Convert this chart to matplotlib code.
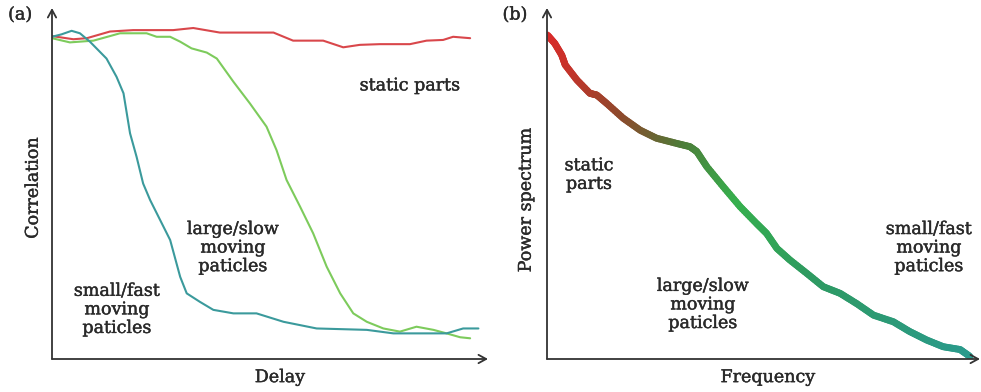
import numpy as np
import matplotlib
matplotlib.use("Agg")
import matplotlib.pyplot as plt
import matplotlib.patheffects as pe
from matplotlib.collections import LineCollection
from matplotlib.colors import LinearSegmentedColormap

# ---- panel (a): correlation vs delay -------------------------------------
static_delay = [0.00, 0.049, 0.080, 0.133, 0.186, 0.278, 0.324, 0.385, 0.508, 0.553,
                0.622, 0.668, 0.706, 0.752, 0.821, 0.859, 0.897, 0.920, 0.959]
static_corr = [0.920, 0.911, 0.914, 0.933, 0.937, 0.937, 0.943, 0.930, 0.930, 0.907,
               0.907, 0.888, 0.895, 0.897, 0.897, 0.907, 0.909, 0.918, 0.914]

slow_delay = [0.00, 0.041, 0.095, 0.133, 0.156, 0.217, 0.240, 0.271, 0.294, 0.320,
              0.355, 0.378, 0.416, 0.454, 0.492, 0.515, 0.538, 0.569, 0.599, 0.630,
              0.661, 0.691, 0.722, 0.760, 0.798, 0.836, 0.875, 0.905, 0.936, 0.959]
slow_corr = [0.914, 0.902, 0.907, 0.920, 0.928, 0.928, 0.918, 0.918, 0.904, 0.885,
             0.873, 0.856, 0.790, 0.728, 0.662, 0.595, 0.510, 0.434, 0.358, 0.263,
             0.187, 0.130, 0.106, 0.087, 0.078, 0.092, 0.083, 0.073, 0.062, 0.059]

fast_delay = [0.00, 0.022, 0.045, 0.064, 0.087, 0.125, 0.148, 0.164, 0.179, 0.194,
              0.209, 0.225, 0.248, 0.271, 0.294, 0.309, 0.339, 0.370, 0.416, 0.469,
              0.531, 0.607, 0.722, 0.783, 0.905, 0.943, 0.978]
fast_corr = [0.918, 0.925, 0.935, 0.928, 0.904, 0.856, 0.804, 0.757, 0.643, 0.576,
             0.500, 0.453, 0.396, 0.339, 0.234, 0.187, 0.163, 0.140, 0.130, 0.130,
             0.106, 0.087, 0.083, 0.073, 0.073, 0.087, 0.087]

# ---- panel (b): power spectrum vs frequency -------------------------------
freq = [0.001, 0.018, 0.034, 0.042, 0.069, 0.099, 0.115, 0.138, 0.176, 0.215,
        0.253, 0.300, 0.330, 0.346, 0.369, 0.407, 0.446, 0.484, 0.507, 0.531,
        0.561, 0.600, 0.638, 0.677, 0.715, 0.754, 0.800, 0.838, 0.877, 0.915,
        0.954, 0.977]
power = [0.923, 0.899, 0.866, 0.838, 0.795, 0.757, 0.752, 0.728, 0.686, 0.652,
         0.629, 0.614, 0.605, 0.591, 0.548, 0.491, 0.434, 0.386, 0.358, 0.315,
         0.282, 0.244, 0.206, 0.187, 0.158, 0.125, 0.106, 0.078, 0.054, 0.035,
         0.027, 0.007]

TEXT = "#2a2a2a"
AXIS = "#333333"
FONT = "DejaVu Serif"
FS = 12.6
HEAVY = [pe.withStroke(linewidth=0.3, foreground=TEXT)]

fig = plt.figure(figsize=(9.81, 3.92), dpi=100)
ax_a = fig.add_axes([52 / 981, 33 / 392, 436 / 981, 351 / 392])
ax_b = fig.add_axes([547 / 981, 33 / 392, 433 / 981, 351 / 392])


def arrow_axes(ax):
    ax.set_xlim(0, 1)
    ax.set_ylim(0, 1)
    for s in ax.spines.values():
        s.set_visible(False)
    ax.set_xticks([])
    ax.set_yticks([])
    ax.patch.set_alpha(0)
    kw = dict(arrowstyle="->,head_length=0.55,head_width=0.3", color=AXIS, lw=1.3,
              shrinkA=0, shrinkB=0)
    ax.annotate("", xy=(0, 1), xytext=(0, 0), xycoords="axes fraction",
                arrowprops=kw, annotation_clip=False)
    ax.annotate("", xy=(1, 0), xytext=(0, 0), xycoords="axes fraction",
                arrowprops=kw, annotation_clip=False)


def label(ax, x, y, s, **kw):
    ax.text(x, y, s, ha="center", va="center", color=TEXT, family=FONT,
            fontsize=FS, linespacing=1.12, clip_on=False, path_effects=HEAVY, **kw)


arrow_axes(ax_a)
ax_a.plot(static_delay, static_corr, color="#d9474b", lw=1.5, solid_capstyle="round")
ax_a.plot(slow_delay, slow_corr, color="#7dcb5c", lw=1.5, solid_capstyle="round")
ax_a.plot(fast_delay, fast_corr, color="#3b9a9c", lw=1.5, solid_capstyle="round")

label(ax_a, 0.821, 0.778, "static parts")
label(ax_a, 0.415, 0.316, "large/slow\nmoving\npaticles")
label(ax_a, 0.149, 0.140, "small/fast\nmoving\npaticles")
label(ax_a, -0.043, 0.487, "Correlation", rotation=90)
label(ax_a, 0.523, -0.053, "Delay")
label(ax_a, -0.073, 0.980, "(a)")

arrow_axes(ax_b)
# colour-graded thick curve; each straight segment is split for a smooth gradient
cmap = LinearSegmentedColormap.from_list(
    "spec", [(0.0, "#dc2a2a"), (0.18, "#8c4a2c"), (0.32, "#4f7a38"),
             (0.45, "#36b04e"), (0.62, "#2e9a60"), (1.0, "#2a9a8c")])
fx, py = np.asarray(freq), np.asarray(power)
sub = 8
xs, ys = [], []
for i in range(len(fx) - 1):
    t = np.linspace(0, 1, sub, endpoint=False)
    xs.append(fx[i] + (fx[i + 1] - fx[i]) * t)
    ys.append(py[i] + (py[i + 1] - py[i]) * t)
xs = np.concatenate(xs + [fx[-1:]])
ys = np.concatenate(ys + [py[-1:]])
pts = np.column_stack([xs, ys]).reshape(-1, 1, 2)
segs = np.concatenate([pts[:-1], pts[1:]], axis=1)
lc = LineCollection(segs, cmap=cmap, linewidths=5.0, capstyle="round",
                    joinstyle="round")
lc.set_array((xs[:-1] + xs[1:]) / 2 / fx[-1])
lc.set_clim(0, 1)
ax_b.add_collection(lc)

label(ax_b, 0.097, 0.524, "static\nparts")
label(ax_b, 0.360, 0.154, "large/slow\nmoving\npaticles")
label(ax_b, 0.882, 0.316, "small/fast\nmoving\npaticles")
label(ax_b, -0.048, 0.453, "Power spectrum", rotation=90)
label(ax_b, 0.510, -0.053, "Frequency")
label(ax_b, -0.074, 0.980, "(b)")

fig.savefig("out.png", dpi=100)
